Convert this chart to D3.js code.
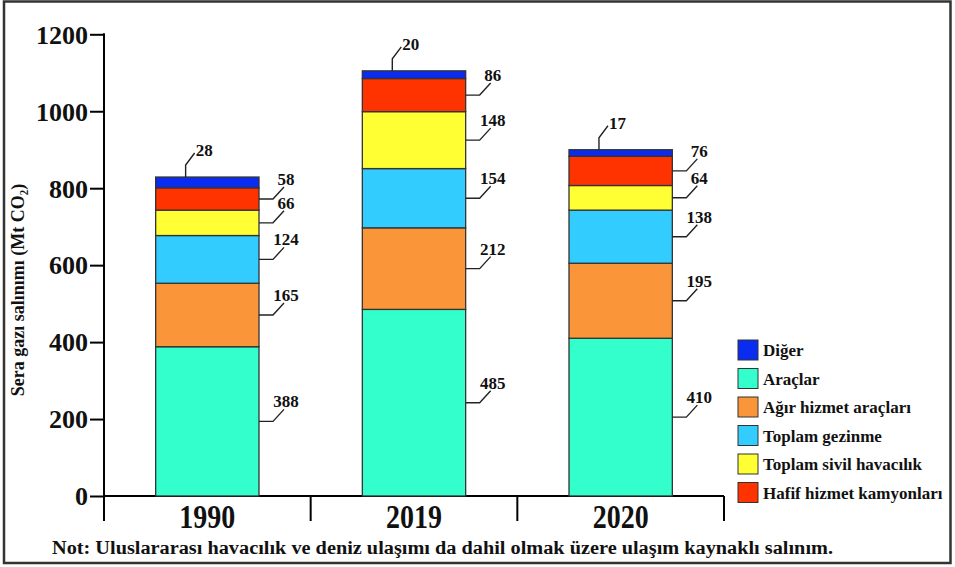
<!DOCTYPE html>
<html><head><meta charset="utf-8">
<script src="https://cdn.jsdelivr.net/npm/d3@7"></script>
<style>
html,body{margin:0;padding:0;background:#fff;}
svg{display:block;}
text{font-family:"Liberation Serif","Times New Roman",serif;font-weight:bold;fill:#111;}
</style></head>
<body><svg id="c" width="955" height="567"></svg>
<script>
const years = ["1990", "2019", "2020"];
const seriesNames = ["Araçlar", "Ağır hizmet araçları", "Toplam gezinme", "Toplam sivil havacılık", "Hafif hizmet kamyonları", "Diğer"];
const aracl = [388, 485, 410];
const agir = [165, 212, 195];
const gezinme = [124, 154, 138];
const sivil = [66, 148, 64];
const hafif = [58, 86, 76];
const diger = [28, 20, 17];
const legendOrder = ["Diğer", "Araçlar", "Ağır hizmet araçları", "Toplam gezinme", "Toplam sivil havacılık", "Hafif hizmet kamyonları"];
const yTicks = [0, 200, 400, 600, 800, 1000, 1200];
const colors = ["#33FFCC", "#FA9639", "#33CCFF", "#FFFF33", "#FF3300", "#0A2BF0"];

const seriesVals = [aracl, agir, gezinme, sivil, hafif, diger];
const rows = years.map((yr, i) => {
  const o = {year: yr};
  seriesNames.forEach((s, k) => o[s] = seriesVals[k][i]);
  return o;
});
const stacked = d3.stack().keys(seriesNames)(rows);
const color = d3.scaleOrdinal().domain(seriesNames).range(colors);

const svg = d3.select("#c");
// frame
svg.append("rect").attr("x", 4).attr("y", 1.5).attr("width", 946.5).attr("height", 561.5)
  .attr("fill", "none").attr("stroke", "#333").attr("stroke-width", 2.5);

const y = d3.scaleLinear().domain([0, 1200]).range([496, 34.3]);
const x = d3.scaleBand().domain(years).range([104, 724]).paddingInner(0.5).paddingOuter(0.25);

// y axis
const yAxis = svg.append("g").attr("transform", "translate(104,0)")
  .call(d3.axisLeft(y).tickValues(yTicks).tickSize(14).tickSizeOuter(0).tickPadding(2).tickFormat(d3.format("d")));
yAxis.select(".domain").remove();
yAxis.selectAll(".tick line").attr("stroke", "#000").attr("stroke-width", 2);
yAxis.selectAll(".tick text").style("font-size", "26px").attr("fill", "#111").attr("dy", "0.34em");
svg.append("line").attr("x1", 104).attr("x2", 104).attr("y1", y(1200) - 1).attr("y2", y(0) + 25)
  .attr("stroke", "#000").attr("stroke-width", 2);

// x axis
svg.append("line").attr("x1", 104).attr("x2", 724).attr("y1", y(0)).attr("y2", y(0))
  .attr("stroke", "#000").attr("stroke-width", 2);
const bounds = years.map((d, i) => 104 + x.step() * (i + 1));
svg.selectAll(".xt").data(bounds).join("line")
  .attr("x1", d => d).attr("x2", d => d).attr("y1", y(0)).attr("y2", y(0) + 25)
  .attr("stroke", "#000").attr("stroke-width", 2);
svg.selectAll(".xl").data(years).join("text")
  .attr("text-anchor", "middle")
  .attr("transform", d => `translate(${x(d) + x.bandwidth() / 2},${y(0) + 32}) scale(1,1.2)`)
  .style("font-size", "28px").text(d => d);

// bars
const layers = svg.append("g").selectAll("g").data(stacked).join("g").attr("fill", d => color(d.key));
layers.selectAll("rect").data(d => d).join("rect")
  .attr("x", d => x(d.data.year)).attr("width", x.bandwidth())
  .attr("y", d => y(d[1])).attr("height", d => y(d[0]) - y(d[1]))
  .attr("stroke", "#333").attr("stroke-width", 1.3);

// labels
const lab = svg.append("g");
stacked.forEach((layer, k) => {
  const top = k === stacked.length - 1;
  layer.forEach(d => {
    const val = d[1] - d[0];
    if (!top) {
      const xr = x(d.data.year) + x.bandwidth();
      const ym = y((d[0] + d[1]) / 2);
      lab.append("path").attr("d", `M${xr},${ym}H${xr + 14}L${xr + 25},${ym - 12}`)
        .attr("fill", "none").attr("stroke", "#222").attr("stroke-width", 1.4);
      lab.append("text").attr("x", xr + 27).attr("y", ym - 14).attr("text-anchor", "middle")
        .style("font-size", "17px").text(val);
    } else {
      const xv = x(d.data.year) + x.bandwidth() * 0.29;
      const yt = y(d[1]);
      lab.append("path").attr("d", `M${xv},${yt}V${yt - 12}L${xv + 9},${yt - 24}`)
        .attr("fill", "none").attr("stroke", "#222").attr("stroke-width", 1.4);
      lab.append("text").attr("x", xv + 10).attr("y", yt - 21).attr("text-anchor", "start")
        .style("font-size", "17px").text(val);
    }
  });
});

// y title
svg.append("text").attr("transform", "translate(24,290) rotate(-90)").attr("text-anchor", "middle")
  .style("font-size", "18px").text("Sera gazı salınımı (Mt CO₂)");

// legend
const lg = svg.append("g").attr("transform", "translate(738,340)");
const li = lg.selectAll("g").data(legendOrder).join("g").attr("transform", (d, i) => `translate(0,${i * 28.5})`);
li.append("rect").attr("width", 20).attr("height", 20).attr("fill", d => color(d))
  .attr("stroke", "#333").attr("stroke-width", 1);
li.append("text").attr("x", 25).attr("y", 16).style("font-size", "17px").text(d => d);

// note
svg.append("text").attr("x", 52).attr("y", 554)
  .attr("textLength", 781).attr("lengthAdjust", "spacingAndGlyphs")
  .style("font-size", "18px")
  .text("Not: Uluslararası havacılık ve deniz ulaşımı da dahil olmak üzere ulaşım kaynaklı salınım.");
</script></body></html>
